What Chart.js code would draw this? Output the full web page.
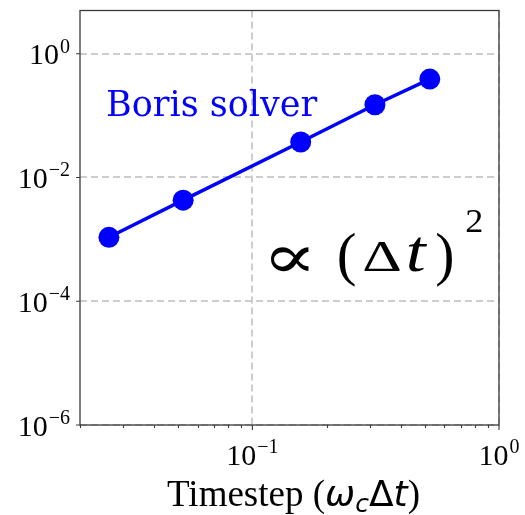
<!DOCTYPE html>
<html>
<head>
<meta charset="utf-8">
<title>Boris solver convergence</title>
<script src="https://cdn.jsdelivr.net/npm/chart.js@4.4.0/dist/chart.umd.min.js"></script>
<style>
  html, body { margin: 0; padding: 0; background: #fff; }
  #wrap { width: 525px; height: 515px; }
</style>
</head>
<body>
<div id="wrap"><canvas id="errChart" width="525" height="515"></canvas></div>
<script>
// timestep in units of the cyclotron period and the Boris pusher error
const timesteps = [0.0262, 0.0524, 0.157, 0.314, 0.524];
const borisError = [1.08e-3, 4.3e-3, 3.75e-2, 0.150, 0.389];

// axis limits and tick positions
const xLimits = [0.02, 1];
const yLimits = [1e-6, 5];
const xMajorTicks = [0.1, 1];
const xMinorTicks = [0.02, 0.03, 0.04, 0.05, 0.06, 0.07, 0.08, 0.09, 0.2, 0.3, 0.4, 0.5, 0.6, 0.7, 0.8, 0.9];
const yMajorTicks = [1e-6, 1e-4, 1e-2, 1];

const blue = '#0000ff';
const gridColor = '#cdcdcd';
const spineColor = '#3a3a3a';
const serif = '"Liberation Serif", "Times New Roman", serif';

function isMajor(list, v) {
  return list.some(m => Math.abs(m - v) / m < 1e-9);
}

// "10" with a raised exponent, y is the middle of the digits
function drawPower(ctx, value, x, y, align) {
  const exp = Math.round(Math.log10(value));
  const sup = exp < 0 ? '\u2212' + Math.abs(exp) : String(exp);
  ctx.font = '30px ' + serif;
  const wb = ctx.measureText('10').width;
  ctx.font = '20px ' + serif;
  const ws = ctx.measureText(sup).width;
  const left = align === 'right' ? x - wb - ws - 1 : x - (wb + ws + 1) / 2;
  ctx.textAlign = 'left';
  ctx.textBaseline = 'alphabetic';
  ctx.font = '30px ' + serif;
  ctx.fillText('10', left, y + 10.5);
  ctx.font = '20px ' + serif;
  ctx.fillText(sup, left + wb + 1, y - 1);
}

// scale a glyph to the height of a pixel box [x0, y0, x1, y1]; it may widen
// by at most `stretch` to fill the box, and is centred across it
function drawInBox(ctx, text, font, box, stretch) {
  ctx.font = font;
  const m = ctx.measureText(text);
  const w = m.actualBoundingBoxLeft + m.actualBoundingBoxRight;
  const h = m.actualBoundingBoxAscent + m.actualBoundingBoxDescent;
  const sy = (box[3] - box[1]) / h;
  const sx = Math.min((box[2] - box[0]) / w, sy * (stretch || 1));
  const x0 = (box[0] + box[2]) / 2 - w * sx / 2;
  ctx.save();
  ctx.translate(x0, box[1]);
  ctx.scale(sx, sy);
  ctx.textAlign = 'left';
  ctx.textBaseline = 'alphabetic';
  ctx.fillText(text, m.actualBoundingBoxLeft, m.actualBoundingBoxAscent);
  ctx.restore();
}

const axisDecor = {
  id: 'axisDecor',
  afterDraw(chart) {
    const { ctx, chartArea: a, scales: { x, y } } = chart;
    ctx.save();
    ctx.strokeStyle = spineColor;
    ctx.fillStyle = '#000';
    ctx.lineWidth = 1.3;
    ctx.strokeRect(a.left, a.top, a.right - a.left, a.bottom - a.top);

    // tick marks
    ctx.lineWidth = 1.1;
    ctx.beginPath();
    xMinorTicks.forEach(v => {
      const px = Math.round(x.getPixelForValue(v)) + 0.5;
      ctx.moveTo(px, a.bottom); ctx.lineTo(px, a.bottom + 3);
    });
    xMajorTicks.forEach(v => {
      const px = x.getPixelForValue(v);
      ctx.moveTo(px, a.bottom); ctx.lineTo(px, a.bottom + 5);
    });
    yMajorTicks.forEach(v => {
      const py = y.getPixelForValue(v);
      ctx.moveTo(a.left, py); ctx.lineTo(a.left - 4, py);
    });
    ctx.stroke();

    // tick labels
    xMajorTicks.forEach(v => drawPower(ctx, v, x.getPixelForValue(v), a.bottom + 29, 'center'));
    yMajorTicks.forEach(v => drawPower(ctx, v, a.left - 10, y.getPixelForValue(v), 'right'));

    // x axis title: roman text with a mathtext part
    const pieces = [
      { t: 'Timestep (', f: '37px ' + serif, dy: 0 },
      { t: '\u03c9', f: 'italic 36px "DejaVu Sans"', dy: 0 },
      { t: 'c', f: 'italic 25px "DejaVu Sans"', dy: 6 },
      { t: '\u0394', f: '36px "DejaVu Sans"', dy: 0 },
      { t: 't', f: 'italic 36px "DejaVu Sans"', dy: 0 },
      { t: ')', f: '37px ' + serif, dy: 0 }
    ];
    let total = 0;
    pieces.forEach(p => { ctx.font = p.f; p.w = ctx.measureText(p.t).width; total += p.w; });
    let cx = (a.left + a.right) / 2 + 4 - total / 2;
    ctx.textAlign = 'left';
    ctx.textBaseline = 'alphabetic';
    pieces.forEach(p => {
      ctx.font = p.f;
      ctx.fillText(p.t, cx, 506 + p.dy);
      cx += p.w;
    });
    ctx.restore();
  }
};

const labels = {
  id: 'labels',
  afterDatasetsDraw(chart) {
    const { ctx } = chart;
    ctx.save();
    ctx.fillStyle = blue;
    ctx.textAlign = 'left';
    ctx.textBaseline = 'alphabetic';
    ctx.font = '35px "DejaVu Serif"';
    ctx.fillText('Boris solver', 106, 116);

    // slope note: proportional to (dt)^2
    ctx.fillStyle = '#000';
    drawInBox(ctx, '\u221d', '100px "DejaVu Serif"', [267, 247, 312, 272], 1.3);
    drawInBox(ctx, '(', '100px ' + serif, [339, 232, 355, 287], 1);
    drawInBox(ctx, '\u0394', '100px ' + serif, [362, 242, 402, 271], 1.4);
    drawInBox(ctx, 't', 'italic 100px ' + serif, [403, 238, 433, 272], 1.2);
    drawInBox(ctx, ')', '100px ' + serif, [437, 232, 452, 287], 1);
    drawInBox(ctx, '2', '100px ' + serif, [463, 210, 485, 232], 1.1);
    ctx.restore();
  }
};

function gridOpts(majors) {
  return {
    color: c => (c.tick && isMajor(majors, c.tick.value)) ? gridColor : 'rgba(0,0,0,0)',
    lineWidth: 2,
    drawTicks: false
  };
}

new Chart(document.getElementById('errChart'), {
  type: 'line',
  data: {
    datasets: [{
      data: timesteps.map((t, i) => ({ x: t, y: borisError[i] })),
      borderColor: blue,
      backgroundColor: blue,
      pointBackgroundColor: blue,
      borderWidth: 3.5,
      pointRadius: 10.5,
      pointHoverRadius: 10.5,
      pointBorderWidth: 0,
      tension: 0
    }]
  },
  options: {
    responsive: false,
    animation: false,
    events: [],
    layout: { padding: { left: 80, top: 10, right: 26, bottom: 90 } },
    plugins: { legend: { display: false }, tooltip: { enabled: false } },
    scales: {
      x: {
        type: 'logarithmic',
        bounds: 'data',
        min: xLimits[0],
        max: xLimits[1],
        afterBuildTicks: s => { s.ticks = xMinorTicks.concat(xMajorTicks).map(v => ({ value: v })); },
        ticks: { display: false },
        grid: gridOpts(xMajorTicks),
        border: { display: false, dash: [7, 4] }
      },
      y: {
        type: 'logarithmic',
        bounds: 'data',
        min: yLimits[0],
        max: yLimits[1],
        afterBuildTicks: s => { s.ticks = yMajorTicks.map(v => ({ value: v })); },
        ticks: { display: false },
        grid: gridOpts(yMajorTicks),
        border: { display: false, dash: [7, 4] }
      }
    }
  },
  plugins: [axisDecor, labels]
});
</script>
</body>
</html>
